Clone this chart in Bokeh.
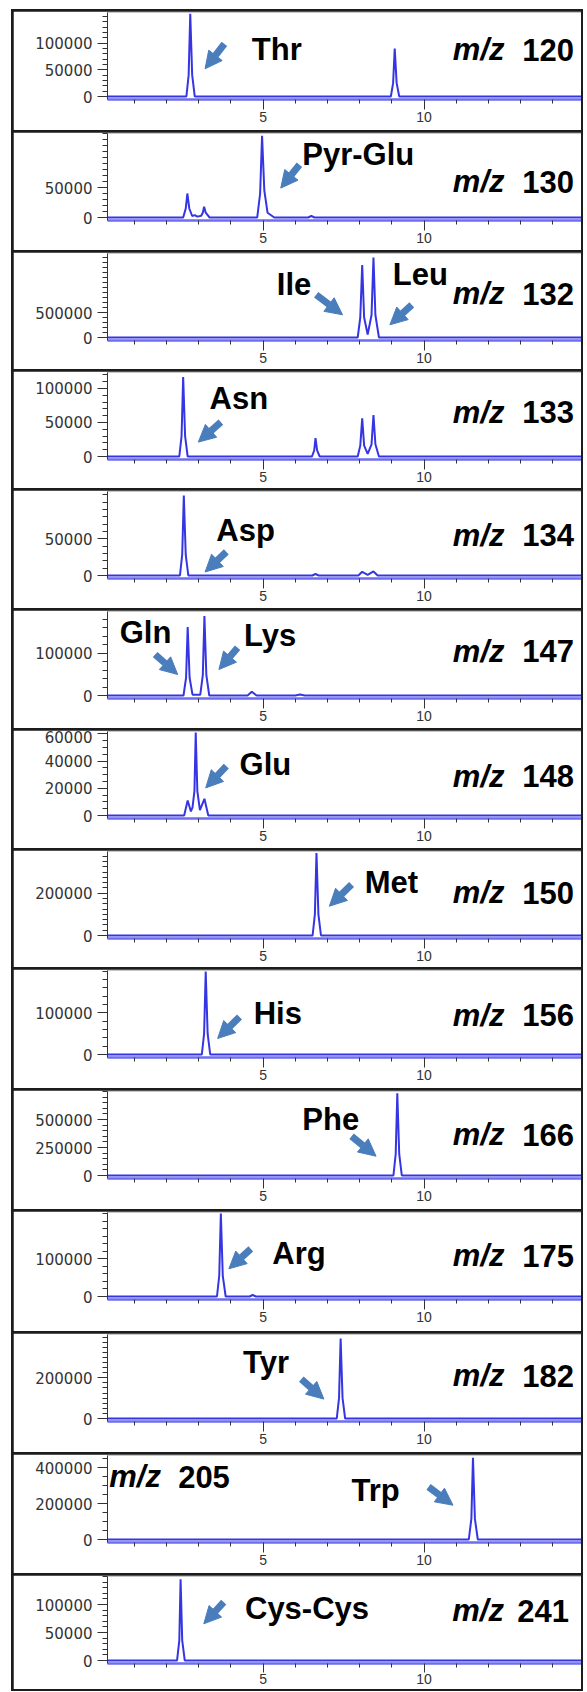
from bokeh.plotting import figure
from bokeh.models import (ColumnDataSource, Range1d, FixedTicker, NumeralTickFormatter,
                          Label, Arrow, NormalHead, Column)
from bokeh.embed import file_html
from bokeh.resources import INLINE

# ---------------- data ----------------
x_major_ticks = [5, 10]
x_minor_ticks = [1, 2, 3, 4, 6, 7, 8, 9, 11, 12, 13, 14]

mz_values = ["120", "130", "132", "133", "134", "147", "148", "150", "156", "166", "175", "182", "205", "241"]

t1 = [0.0, 2.62, 2.69, 2.74, 2.80, 2.88, 8.97, 9.04, 9.09, 9.15, 9.23, 15.0]
i1 = [0, 0, 40000, 155000, 40000, 0, 0, 25000, 90000, 25000, 0, 0]

t2 = [0.0, 2.52, 2.60, 2.65, 2.71, 2.80, 2.88, 2.96, 3.08, 3.13, 3.17, 3.22, 3.34,
      4.82, 4.91, 4.97, 5.04, 5.14, 5.35, 6.40, 6.50, 6.60, 15.0]
i2 = [0, 0, 15000, 40000, 15000, 2500, 4000, 1500, 3000, 8000, 18000, 8000, 0,
      0, 40000, 136000, 45000, 8000, 0, 0, 2500, 0, 0]

t3 = [0.0, 7.94, 8.02, 8.08, 8.14, 8.25, 8.37, 8.43, 8.49, 8.60, 15.0]
i3 = [0, 0, 400000, 1450000, 400000, 60000, 450000, 1600000, 450000, 0, 0]

t4 = [0.0, 2.40, 2.47, 2.52, 2.58, 2.66, 6.52, 6.59, 6.63, 6.68, 6.76,
      7.94, 8.02, 8.08, 8.14, 8.25, 8.37, 8.43, 8.49, 8.60, 15.0]
i4 = [0, 0, 30000, 117000, 30000, 0, 0, 9000, 27000, 9000, 0,
      0, 16000, 56000, 16000, 4000, 18000, 61000, 18000, 0, 0]

t5 = [0.0, 2.42, 2.49, 2.54, 2.60, 2.68, 6.53, 6.63, 6.73, 7.96, 8.08, 8.25, 8.43, 8.56, 15.0]
i5 = [0, 0, 28000, 109000, 28000, 0, 0, 2000, 0, 0, 5000, 1000, 5500, 0, 0]

t6 = [0.0, 2.53, 2.61, 2.66, 2.72, 2.81, 3.05, 3.13, 3.18, 3.24, 3.33,
      4.52, 4.65, 4.80, 6.00, 6.15, 6.30, 15.0]
i6 = [0, 0, 42000, 162000, 42000, 2000, 1500, 48000, 188000, 48000, 0,
      0, 9000, 0, 0, 2500, 0, 0]

t7 = [0.0, 2.55, 2.66, 2.76, 2.81, 2.87, 2.91, 2.96, 3.04, 3.18, 3.30, 15.0]
i7 = [0, 0, 11000, 3000, 6000, 18000, 61000, 18000, 4000, 12300, 0, 0]

t8 = [0.0, 6.54, 6.61, 6.66, 6.72, 6.80, 15.0]
i8 = [0, 0, 100000, 390000, 100000, 0, 0]

t9 = [0.0, 3.10, 3.17, 3.22, 3.28, 3.36, 15.0]
i9 = [0, 0, 50000, 199000, 50000, 0, 0]

t10 = [0.0, 9.05, 9.12, 9.17, 9.23, 9.31, 15.0]
i10 = [0, 0, 190000, 735000, 190000, 0, 0]

t11 = [0.0, 3.57, 3.64, 3.69, 3.75, 3.84, 4.58, 4.68, 4.78, 15.0]
i11 = [0, 0, 55000, 220000, 55000, 0, 0, 4000, 0, 0]

t12 = [0.0, 7.29, 7.36, 7.41, 7.47, 7.55, 15.0]
i12 = [0, 0, 100000, 393000, 100000, 0, 0]

t13 = [0.0, 11.39, 11.47, 11.52, 11.58, 11.67, 15.0]
i13 = [0, 0, 115000, 456000, 115000, 0, 0]

t14 = [0.0, 2.33, 2.40, 2.44, 2.49, 2.57, 15.0]
i14 = [0, 0, 36000, 145000, 36000, 0, 0]

traces_t = [t1, t2, t3, t4, t5, t6, t7, t8, t9, t10, t11, t12, t13, t14]
traces_i = [i1, i2, i3, i4, i5, i6, i7, i8, i9, i10, i11, i12, i13, i14]

# y axis: top of each panel and labelled ticks, minor tick step
y_top = [157300, 140000, 1680000, 123500, 114400, 198600, 61800,
         397000, 201500, 750000, 222800, 412800, 469000, 150000]
y_major = [[0, 50000, 100000], [0, 50000], [0, 500000], [0, 50000, 100000], [0, 50000],
           [0, 100000], [0, 20000, 40000, 60000], [0, 200000], [0, 100000],
           [0, 250000, 500000], [0, 100000], [0, 200000], [0, 200000, 400000],
           [0, 50000, 100000]]
y_minor_step = [10000, 10000, 100000, 10000, 10000, 20000, 5000,
                25000, 20000, 50000, 20000, 25000, 50000, 10000]

# ---------------- annotation positions (time, px below frame top) ----------------
name_labels = [
    [("Thr", 4.65, 37)],
    [("Pyr-Glu", 6.22, 21)],
    [("Ile", 5.43, 31), ("Leu", 9.03, 21)],
    [("Asn", 3.34, 26.3)],
    [("Asp", 3.55, 38.7)],
    [("Gln", 0.55, 21.3), ("Lys", 4.41, 23.6)],
    [("Glu", 4.27, 33)],
    [("Met", 8.16, 31.3)],
    [("His", 4.71, 43)],
    [("Phe", 6.22, 28)],
    [("Arg", 5.29, 41.3)],
    [("Tyr", 4.38, 28)],
    [("Trp", 7.75, 34.7)],
    [("Cys-Cys", 4.44, 32.3)],
]
mz_pos = [(12.5, 14.66, 37), (12.5, 14.66, 48), (12.5, 14.66, 40), (12.5, 14.66, 39.6),
          (12.5, 14.66, 43.7), (12.5, 14.66, 39.6), (12.5, 14.66, 44.7), (12.5, 14.66, 41.3),
          (12.5, 14.66, 44.7), (12.5, 14.66, 43), (12.5, 14.66, 43), (12.5, 14.66, 41.3),
          (1.83, 3.97, 21.4), (12.48, 14.5, 34)]
arrows = [
    [(3.80, 31.3, 3.20, 56.3)],
    [(6.13, 31.3, 5.55, 54.6)],
    [(6.65, 41.3, 7.47, 61.3), (9.62, 51.3, 8.94, 71.3)],
    [(3.69, 49.6, 2.99, 69.6)],
    [(3.86, 60.4, 3.20, 80.5)],
    [(1.65, 43, 2.35, 63), (4.21, 36.3, 3.63, 58)],
    [(3.86, 34.7, 3.22, 56.4)],
    [(7.75, 33, 7.06, 54.7)],
    [(4.27, 46.4, 3.59, 68)],
    [(7.75, 44.7, 8.51, 64.7)],
    [(4.62, 36.3, 3.94, 56.3)],
    [(6.19, 44.6, 6.89, 64.6)],
    [(10.14, 31.4, 10.90, 49.7)],
    [(3.78, 25.7, 3.16, 47.3)],
]

# ---------------- layout / styling ----------------
panel_heights = [119, 118, 117, 117, 118, 118, 118, 117, 119, 119, 120, 119, 119, 114]
FIG_W = 568
LEFT = 94
FRAME_W = FIG_W - LEFT
PX_PER_MIN = 32.2
X0 = 0.17
X1 = X0 + FRAME_W / PX_PER_MIN
ZERO_PX = 84.0      # px from frame top to zero line
BELOW_PX = 3.0      # px from zero line to frame bottom
TRACE = "#3535e4"
ARROW = "#4a7dbb"
LABEL_FONT = "Liberation Sans"


def ypix(k, dy):
    return (ZERO_PX - dy) / ZERO_PX * y_top[k]


def make_panel(k, last=False):
    ymax = y_top[k]
    ymin = -ymax * BELOW_PX / ZERO_PX
    H = panel_heights[k]
    p = figure(width=FIG_W, height=H, x_range=Range1d(X0, X1), y_range=Range1d(ymin, ymax),
               output_backend="svg", toolbar_location=None,
               min_border_left=LEFT, min_border_right=0, min_border_top=1,
               min_border_bottom=H - 88)
    p.outline_line_color = None
    p.xgrid.visible = False
    p.ygrid.visible = False
    p.background_fill_color = "white"
    p.border_fill_color = "white"

    src = ColumnDataSource(dict(t=traces_t[k], i=traces_i[k]))
    p.line("t", "i", source=src, line_color=TRACE, line_width=2)

    xa = p.xaxis[0]
    xa.ticker = FixedTicker(ticks=x_major_ticks, minor_ticks=x_minor_ticks)
    xa.axis_line_color = "#6d6df0"
    xa.axis_line_width = 2.5
    xa.major_tick_line_color = "#333333"
    xa.minor_tick_line_color = "#333333"
    xa.major_tick_in = 0
    xa.minor_tick_in = 0
    xa.major_tick_out = 9 if last else 10
    xa.minor_tick_out = 4
    xa.major_label_standoff = 1 if last else 2
    xa.major_label_text_font = "Liberation Sans"
    xa.major_label_text_font_size = "14px"
    xa.major_label_text_color = "#333333"

    ya = p.yaxis[0]
    ymin_tick = []
    v = 0
    while v <= ymax:
        if v not in y_major[k]:
            ymin_tick.append(v)
        v += y_minor_step[k]
    ya.ticker = FixedTicker(ticks=y_major[k], minor_ticks=ymin_tick)
    ya.formatter = NumeralTickFormatter(format="0")
    ya.axis_line_color = "#333333"
    ya.major_tick_line_color = "#333333"
    ya.minor_tick_line_color = "#333333"
    ya.major_tick_in = 0
    ya.minor_tick_in = 0
    ya.major_tick_out = 10
    ya.minor_tick_out = 5
    ya.major_label_standoff = 5
    ya.major_label_text_font = "DejaVu Sans"
    ya.major_label_text_font_size = "15px"
    ya.major_label_text_color = "#333333"

    # "min" unit label at the right end of the time axis
    p.add_layout(Label(x=X1 - 0.03, y=(-16 if last else -21), x_units="data", y_units="screen",
                       text="min", text_font="Liberation Sans", text_font_size="13px",
                       text_color="#333333", text_baseline="middle", text_align="right"))

    for (name, tx, dy) in name_labels[k]:
        p.add_layout(Label(x=tx, y=ypix(k, dy), text=name, text_font=LABEL_FONT,
                           text_font_size="31px", text_font_style="bold", text_color="black",
                           text_align="left", text_baseline="middle"))

    mzx, numx, dy = mz_pos[k]
    p.add_layout(Label(x=mzx, y=ypix(k, dy), text="m/z", text_font=LABEL_FONT,
                       text_font_size="31px", text_font_style="bold italic", text_color="black",
                       text_align="right", text_baseline="middle"))
    p.add_layout(Label(x=numx, y=ypix(k, dy), text=mz_values[k], text_font=LABEL_FONT,
                       text_font_size="31px", text_font_style="bold", text_color="black",
                       text_align="right", text_baseline="middle"))

    for (xs, dys, xe, dye) in arrows[k]:
        p.add_layout(Arrow(end=NormalHead(size=17, fill_color=ARROW, line_color=ARROW, line_width=1),
                           x_start=xs, y_start=ypix(k, dys), x_end=xe, y_end=ypix(k, dye),
                           line_color=ARROW, line_width=7))
    return p


panels = [make_panel(k, last=(k == len(traces_t) - 1)) for k in range(len(traces_t))]
layout = Column(children=panels, spacing=2, margin=(9, 0, 0, 11),
                styles={"background-color": "#1c1c1c", "padding": "2px"})

open("out.html", "w").write(file_html(layout, INLINE))
